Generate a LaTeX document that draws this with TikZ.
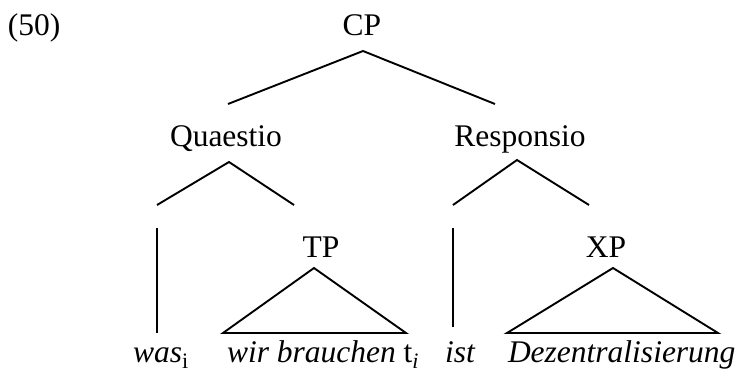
\documentclass[tikz,border=0pt]{standalone}
\usepackage{fontspec}
\setmainfont{Liberation Serif}
\begin{document}
\begin{tikzpicture}[x=1pt,y=-1pt,
  lbl/.style={inner sep=0pt,outer sep=0pt,anchor=base,font=\fontsize{31.5}{36}\selectfont},
  leaf/.style={lbl,anchor=base west},
  edge/.style={line width=1.9pt,line join=miter}]
\useasboundingbox (0,0) rectangle (742,372);
% labels
\node[leaf] (num) at (8,35) {(50)};
\node[lbl] (cp) at (362,35) {CP};
\node[lbl] (qu) at (226,146) {Quaestio};
\node[lbl] (re) at (520,146) {Responsio};
\node[lbl] (tp) at (321,257) {TP};
\node[lbl] (xp) at (606,257) {XP};
\node[leaf] (was) at (133,362) {\itshape was\textsubscript{\upshape i}};
\node[leaf] (wir) at (227,362) {\itshape wir brauchen \upshape t\textsubscript{\itshape i}};
\node[leaf] (ist) at (445,362) {\itshape ist};
\node[leaf] (dez) at (508,362) {\itshape Dezentralisierung};
% coordinates
\coordinate (cpA) at (363,51);
\coordinate (cpL) at (228,104);
\coordinate (cpR) at (495,104);
\coordinate (quA) at (229,162);
\coordinate (quL) at (157,205);
\coordinate (quR) at (294,205);
\coordinate (reA) at (517,160);
\coordinate (reL) at (453,205);
\coordinate (reR) at (589,205);
\coordinate (wasT) at (157,228);
\coordinate (wasB) at (157,333);
\coordinate (istT) at (453,228);
\coordinate (istB) at (453,327);
\coordinate (tpA) at (314,268);
\coordinate (tpL) at (223,333);
\coordinate (tpR) at (406,333);
\coordinate (xpA) at (613,268);
\coordinate (xpL) at (507,333);
\coordinate (xpR) at (718,333);
% edges
\draw[edge] (cpL) -- (cpA) -- (cpR);
\draw[edge] (quL) -- (quA) -- (quR);
\draw[edge] (reL) -- (reA) -- (reR);
\draw[edge] (wasT) -- (wasB);
\draw[edge] (istT) -- (istB);
\draw[edge] (tpA) -- (tpL) -- (tpR) -- cycle;
\draw[edge] (xpA) -- (xpL) -- (xpR) -- cycle;
\end{tikzpicture}
\end{document}
